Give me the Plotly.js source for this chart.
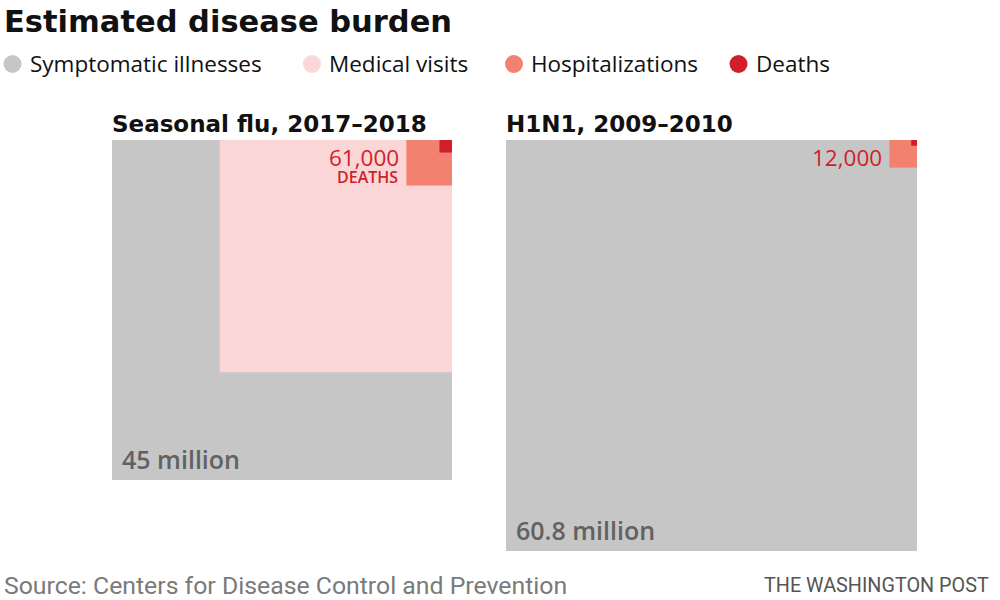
<!DOCTYPE html>
<html>
<head>
<meta charset="utf-8">
<script src="https://cdn.plot.ly/plotly-3.0.1.min.js"></script>
<style>html,body{margin:0;padding:0;background:#fff;}#chart{width:1000px;height:600px;}</style>
</head>
<body>
<div id="chart"></div>
<script>
// ---- data ----
const categories = ["Symptomatic illnesses", "Medical visits", "Hospitalizations", "Deaths"];
const panelTitles = ["Seasonal flu, 2017–2018", "H1N1, 2009–2010"];
const seasonalValues = [45000000, 21000000, 810000, 61000];
const h1n1Values = [60800000, null, 274000, 12000];
const deathLabelSuffix = ["DEATHS", ""];

// ---- styles ----
const colors = ["#c6c6c6", "#fbd6d6", "#f28170", "#cf1f2a"];
const BOLD_FONT = "'DejaVu Sans', sans-serif";
const FONT = "'Open Sans', 'Noto Sans', sans-serif";
const SRC_FONT = "Roboto, 'Liberation Sans', sans-serif";
const W = 1000, H = 600;
const px = v => v / W, py = v => 1 - v / H;

const panelValues = [seasonalValues, h1n1Values];
const axisIds = [["x", "y"], ["x2", "y2"]];

const traces = [];
const annotations = [];
panelValues.forEach((vals, p) => {
  const S = Math.sqrt(vals[0]);
  vals.forEach((v, i) => {
    if (v == null) return;
    const s = Math.sqrt(v);
    traces.push({
      type: "scatter", mode: "lines", fill: "toself",
      x: [S - s, S, S, S - s, S - s],
      y: [0, 0, s, s, 0],
      xaxis: axisIds[p][0], yaxis: axisIds[p][1],
      fillcolor: colors[i], line: {width: 0, color: colors[i]},
      hoverinfo: "skip", showlegend: false, name: categories[i]
    });
  });
  // panel title
  annotations.push({
    xref: axisIds[p][0] + " domain", yref: axisIds[p][1] + " domain",
    x: 0, y: 1, xanchor: "left", yanchor: "bottom", xshift: -2, yshift: 1,
    text: panelTitles[p], showarrow: false,
    font: {family: BOLD_FONT, size: 23, color: "#111", weight: "bold"}
  });
  // illness label
  annotations.push({
    xref: axisIds[p][0], yref: axisIds[p][1],
    x: 0, y: S, xanchor: "left", yanchor: "bottom", xshift: 8, yshift: 2,
    text: (vals[0] / 1e6) + " million", showarrow: false,
    font: {family: FONT, size: 25, color: "#626262", weight: 600}
  });
  // deaths label next to hospitalization square
  const sh = Math.sqrt(vals[2]);
  annotations.push({
    xref: axisIds[p][0], yref: axisIds[p][1],
    x: S - sh, y: 0, xanchor: "right", yanchor: "top", xshift: -6, yshift: -0.5,
    text: vals[3].toLocaleString("en-US"),
    showarrow: false, borderpad: 0,
    font: {family: FONT, size: 22.5, color: "#cf1f2a"}
  });
  if (deathLabelSuffix[p]) {
    annotations.push({
      xref: axisIds[p][0], yref: axisIds[p][1],
      x: S - sh, y: 0, xanchor: "right", yanchor: "top", xshift: -6, yshift: -24,
      text: deathLabelSuffix[p], showarrow: false,
      font: {family: FONT, size: 16, color: "#cf1f2a", weight: 600}
    });
  }
});

// legend (manual, circles + labels)
const legendCircleX = [12.5, 312, 514, 738.5];
const legendTextX = [30, 329, 531, 756];
const legendY = 64;
const shapes = [];
categories.forEach((c, i) => {
  shapes.push({
    type: "circle", xref: "paper", yref: "paper",
    x0: px(legendCircleX[i] - 9), x1: px(legendCircleX[i] + 9),
    y0: py(legendY + 9), y1: py(legendY - 9),
    fillcolor: colors[i], line: {width: 0}
  });
  annotations.push({
    xref: "paper", yref: "paper", x: px(legendTextX[i] - 2), y: py(legendY - 0.5),
    xanchor: "left", yanchor: "middle", text: c, showarrow: false,
    font: {family: FONT, size: 22.5, color: "#111"}
  });
});

// title, source, credit
annotations.push({
  xref: "paper", yref: "paper", x: px(2), y: py(2), xanchor: "left", yanchor: "top",
  text: "Estimated disease burden", showarrow: false,
  font: {family: BOLD_FONT, size: 30.5, color: "#111", weight: "bold"}
});
annotations.push({
  xref: "paper", yref: "paper", x: px(2), y: py(585), xanchor: "left", yanchor: "middle",
  text: "Source: Centers for Disease Control and Prevention", showarrow: false,
  font: {family: SRC_FONT, size: 24.8, color: "#7a7a7a"}
});
annotations.push({
  xref: "paper", yref: "paper", x: px(991), y: py(585), xanchor: "right", yanchor: "middle",
  text: "THE WASHINGTON POST", showarrow: false,
  font: {family: SRC_FONT, size: 19.8, color: "#555"}
});

const hiddenAxis = {showgrid: false, zeroline: false, showticklabels: false, ticks: "", showline: false, fixedrange: true};
const S1 = Math.sqrt(seasonalValues[0]);
const S2 = Math.sqrt(h1n1Values[0]);
const layout = {
  width: W, height: H,
  margin: {l: 0, r: 0, t: 0, b: 0},
  paper_bgcolor: "#fff", plot_bgcolor: "rgba(0,0,0,0)",
  showlegend: false,
  xaxis: Object.assign({}, hiddenAxis, {domain: [px(112), px(452)], range: [0, S1], anchor: "y"}),
  yaxis: Object.assign({}, hiddenAxis, {domain: [py(480), py(140)], range: [S1, 0], anchor: "x"}),
  xaxis2: Object.assign({}, hiddenAxis, {domain: [px(506), px(917)], range: [0, S2], anchor: "y2"}),
  yaxis2: Object.assign({}, hiddenAxis, {domain: [py(551), py(140)], range: [S2, 0], anchor: "x2"}),
  annotations: annotations,
  shapes: shapes
};

Plotly.newPlot("chart", traces, layout, {staticPlot: true, displayModeBar: false});
</script>
</body>
</html>
